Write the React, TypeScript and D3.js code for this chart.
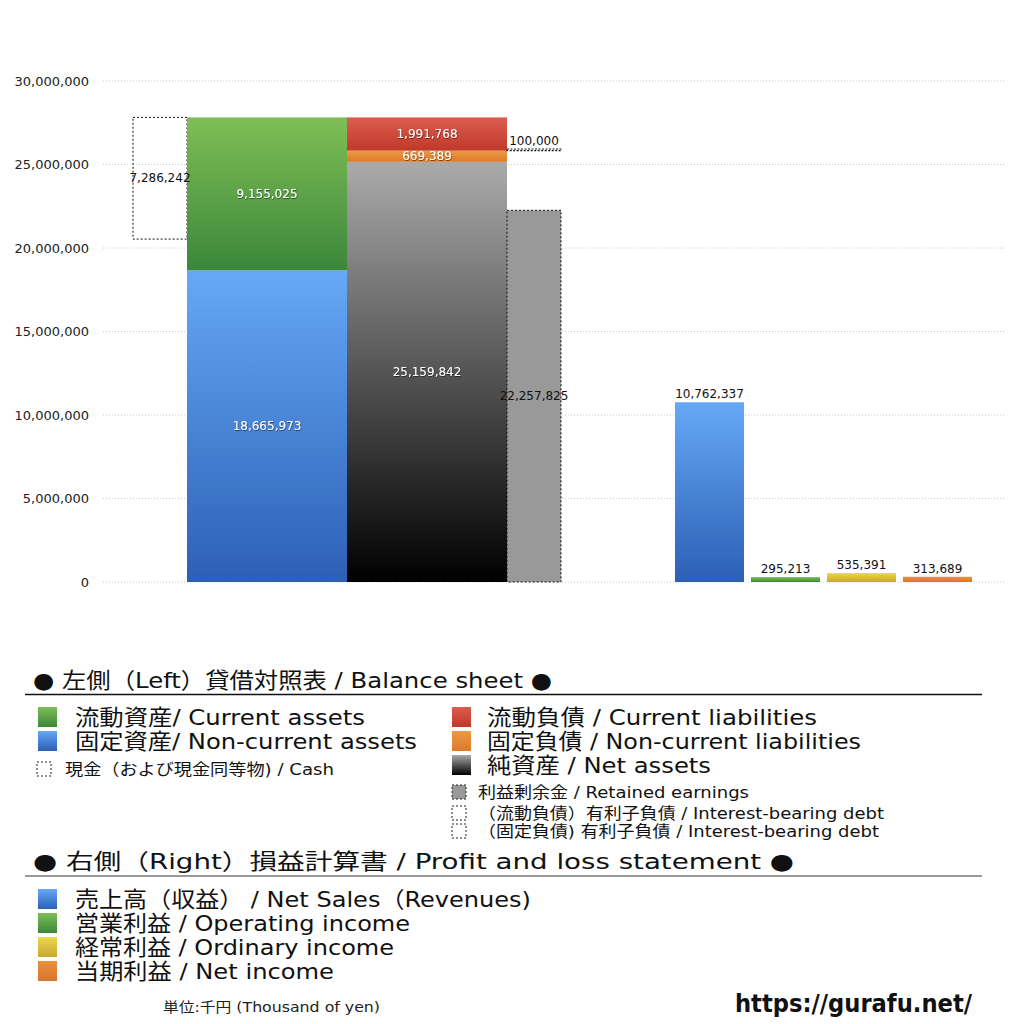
import React from "react";
import * as d3 from "d3";

// ---- data ----
const yTicks = [0, 5000000, 10000000, 15000000, 20000000, 25000000, 30000000];
const bsColumns = ["assets", "liabilities"];
const assetNames = ["固定資産", "流動資産"];
const assetValues = [18665973, 9155025];
const liabNames = ["純資産", "固定負債", "流動負債"];
const liabValues = [25159842, 669389, 1991768];
const cashValue = 7286242;
const retainedEarnings = 22257825;
const interestDebtCurrent = 100000;
const plNames = ["売上高", "営業利益", "経常利益", "当期利益"];
const plValues = [10762337, 295213, 535391, 313689];

const FONT = "'DejaVu Sans', 'Noto Sans CJK JP', sans-serif";
const fmt = d3.format(",");

const gradients: Record<string, [string, string]> = {
  blue: ["#66a8f7", "#2c60b6"],
  green: ["#7fbe56", "#3b873a"],
  red: ["#dc5d4e", "#c0392a"],
  orange: ["#ec9a44", "#db7a2a"],
  gray: ["#aaaaaa", "#000000"],
  yellow: ["#ecd84c", "#c9a633"],
  ocre: ["#e8913c", "#d9742c"],
};

export default function App() {
  const y = d3.scaleLinear().domain([0, 30000000]).range([582, 81]);
  const xBS = d3.scaleBand().domain(bsColumns).range([187, 507]).padding(0);
  const bw = xBS.bandwidth();
  const sideW = 54;
  const xPL = d3.scaleBand().domain(plNames).range([671.5, 975.5]).paddingInner(0.0921).paddingOuter(0.046);

  const assetColors = ["blue", "green"];
  const liabColors = ["gray", "orange", "red"];

  const stack = (vals: number[]) => {
    let acc = 0;
    return vals.map((v) => {
      const s = { y0: acc, y1: acc + v, v };
      acc += v;
      return s;
    });
  };
  const assetStack = stack(assetValues);
  const liabStack = stack(liabValues);
  const totalAssets = d3.sum(assetValues);
  const ax = xBS("assets")!;
  const lx = xBS("liabilities")!;
  const cashX = ax - sideW;
  const rightX = lx + bw;
  const debtBase = liabStack[1].y1;

  const inLabel = (x: number, yy: number, t: string, key: string) => (
    <text key={key} x={x} y={yy} textAnchor="middle" dominantBaseline="central" fontSize={12} fill="#fff" filter="url(#shadow)">
      {t}
    </text>
  );

  const T = (x: number, yy: number, size: number, len: number, text: string, extra: any = {}) => (
    <text x={x} y={yy} dominantBaseline="central" fontSize={size} fill="#111" textLength={len} lengthAdjust="spacingAndGlyphs" {...extra}>
      {text}
    </text>
  );

  const legendBig = (x: number, yy: number, grad: string, text: string, key: string, tx: number, len: number) => (
    <g key={key}>
      <rect x={x} y={yy - 10} width={19} height={20} fill={`url(#g-${grad})`} />
      {T(tx, yy, 22, len, text)}
    </g>
  );
  const legendSmall = (x: number, yy: number, fill: string, text: string, key: string, tx: number, len: number) => (
    <g key={key}>
      <rect x={x} y={yy - 7} width={14} height={14} fill={fill} stroke="#222" strokeWidth={1} strokeDasharray="2,2" />
      {T(tx, yy, 16, len, text)}
    </g>
  );

  return (
    <svg width={1024} height={1024} style={{ position: "absolute", left: 0, top: 0, background: "#fff" }} fontFamily={FONT}>
      <defs>
        {Object.entries(gradients).map(([k, [a, b]]) => (
          <linearGradient key={k} id={`g-${k}`} x1="0" y1="0" x2="0" y2="1">
            <stop offset="0%" stopColor={a} />
            <stop offset="100%" stopColor={b} />
          </linearGradient>
        ))}
        <filter id="shadow" x="-20%" y="-50%" width="140%" height="200%">
          <feDropShadow dx="0.5" dy="0.8" stdDeviation="0.5" floodColor="#000" floodOpacity="0.6" />
        </filter>
      </defs>
      <rect x={0} y={0} width={1024} height={1024} fill="#fff" />

      {/* grid + y axis */}
      {yTicks.map((t) => (
        <g key={t}>
          <line x1={103} x2={1005} y1={y(t)} y2={y(t)} stroke="#c8c8c8" strokeWidth={1} strokeDasharray="1,2" />
          <text x={89} y={y(t)} textAnchor="end" dominantBaseline="central" fontSize={13} fill="#222">
            {fmt(t)}
          </text>
        </g>
      ))}

      {/* cash box */}
      <rect x={cashX} y={y(totalAssets)} width={sideW} height={y(totalAssets - cashValue) - y(totalAssets)} fill="none" stroke="#111" strokeWidth={1} strokeDasharray="2,2" />

      {/* assets */}
      {assetStack.map((s, i) => (
        <rect key={assetNames[i]} x={ax} y={y(s.y1)} width={bw} height={y(s.y0) - y(s.y1)} fill={`url(#g-${assetColors[i]})`} />
      ))}
      {/* liabilities + net assets */}
      {liabStack.map((s, i) => (
        <rect key={liabNames[i]} x={lx} y={y(s.y1)} width={bw} height={y(s.y0) - y(s.y1)} fill={`url(#g-${liabColors[i]})`} />
      ))}

      {/* retained earnings */}
      <rect x={rightX} y={y(retainedEarnings)} width={sideW} height={y(0) - y(retainedEarnings)} fill="#999999" stroke="#111" strokeWidth={1} strokeDasharray="2,2" />
      {/* interest-bearing debt */}
      <rect x={rightX} y={y(debtBase + interestDebtCurrent)} width={sideW} height={y(debtBase) - y(debtBase + interestDebtCurrent)} fill="none" stroke="#111" strokeWidth={1.2} strokeDasharray="2,1.5" />

      {/* labels */}
      <text x={cashX + sideW / 2} y={y(totalAssets - cashValue / 2)} textAnchor="middle" dominantBaseline="central" fontSize={12} fill="#111">
        {fmt(cashValue)}
      </text>
      {assetStack.map((s, i) => inLabel(ax + bw / 2, y((s.y0 + s.y1) / 2), fmt(s.v), "al" + i))}
      {liabStack.map((s, i) => inLabel(lx + bw / 2, y((s.y0 + s.y1) / 2), fmt(s.v), "ll" + i))}
      <text x={rightX + sideW / 2} y={y(retainedEarnings / 2)} textAnchor="middle" dominantBaseline="central" fontSize={12} fill="#111">
        {fmt(retainedEarnings)}
      </text>
      <text x={rightX + sideW / 2} y={y(debtBase + interestDebtCurrent) - 8} textAnchor="middle" dominantBaseline="central" fontSize={12} fill="#111">
        {fmt(interestDebtCurrent)}
      </text>

      {/* P&L bars */}
      {plValues.map((v, i) => {
        const c = ["blue", "green", "yellow", "ocre"][i];
        const x = xPL(plNames[i])!;
        return (
          <g key={plNames[i]}>
            <rect x={x} y={y(v)} width={xPL.bandwidth()} height={y(0) - y(v)} fill={`url(#g-${c})`} />
            <text x={x + xPL.bandwidth() / 2} y={y(v) - 8} textAnchor="middle" dominantBaseline="central" fontSize={12} fill="#111">
              {fmt(v)}
            </text>
          </g>
        );
      })}

      {/* legend: balance sheet */}
      {T(33, 680, 22, 519, "● 左側（Left）貸借対照表 / Balance sheet ●")}
      <line x1={25} x2={982} y1={694.5} y2={694.5} stroke="#111" strokeWidth={1.3} />
      {legendBig(38, 717, "green", "流動資産/ Current assets", "lb1", 75, 290)}
      {legendBig(38, 741, "blue", "固定資産/ Non-current assets", "lb2", 75, 342)}
      {legendSmall(37, 769, "none", "現金（および現金同等物) / Cash", "ls1", 65, 269)}
      {legendBig(452, 717, "red", "流動負債 /  Current liabilities", "lb3", 487, 330)}
      {legendBig(452, 741, "orange", "固定負債 / Non-current liabilities", "lb4", 487, 374)}
      {legendBig(452, 765, "gray", "純資産 / Net assets", "lb5", 487, 224)}
      {legendSmall(452, 792, "#999999", "利益剰余金 / Retained earnings", "ls2", 478, 271)}
      {legendSmall(452, 813, "none", "（流動負債）有利子負債 / Interest-bearing debt", "ls3", 478, 406)}
      {legendSmall(452, 831, "none", "（固定負債) 有利子負債 / Interest-bearing debt", "ls4", 478, 401)}

      {/* legend: P&L */}
      {T(33, 861, 22, 761, "● 右側（Right）損益計算書 / Profit and loss statement ●")}
      <line x1={25} x2={982} y1={876} y2={876} stroke="#777" strokeWidth={1.5} />
      {legendBig(38, 899, "blue", "売上高（収益）  / Net Sales（Revenues)", "lp1", 75, 456)}
      {legendBig(38, 923, "green", "営業利益 / Operating income", "lp2", 75, 335)}
      {legendBig(38, 947, "yellow", "経常利益 / Ordinary income", "lp3", 75, 319)}
      {legendBig(38, 971, "ocre", "当期利益 / Net income", "lp4", 75, 259)}

      {T(163, 1007, 14, 217, "単位:千円 (Thousand of yen)", { fill: "#222" })}
      {T(735, 1004, 24, 237, "https://gurafu.net/", { fontWeight: "bold" })}
    </svg>
  );
}
